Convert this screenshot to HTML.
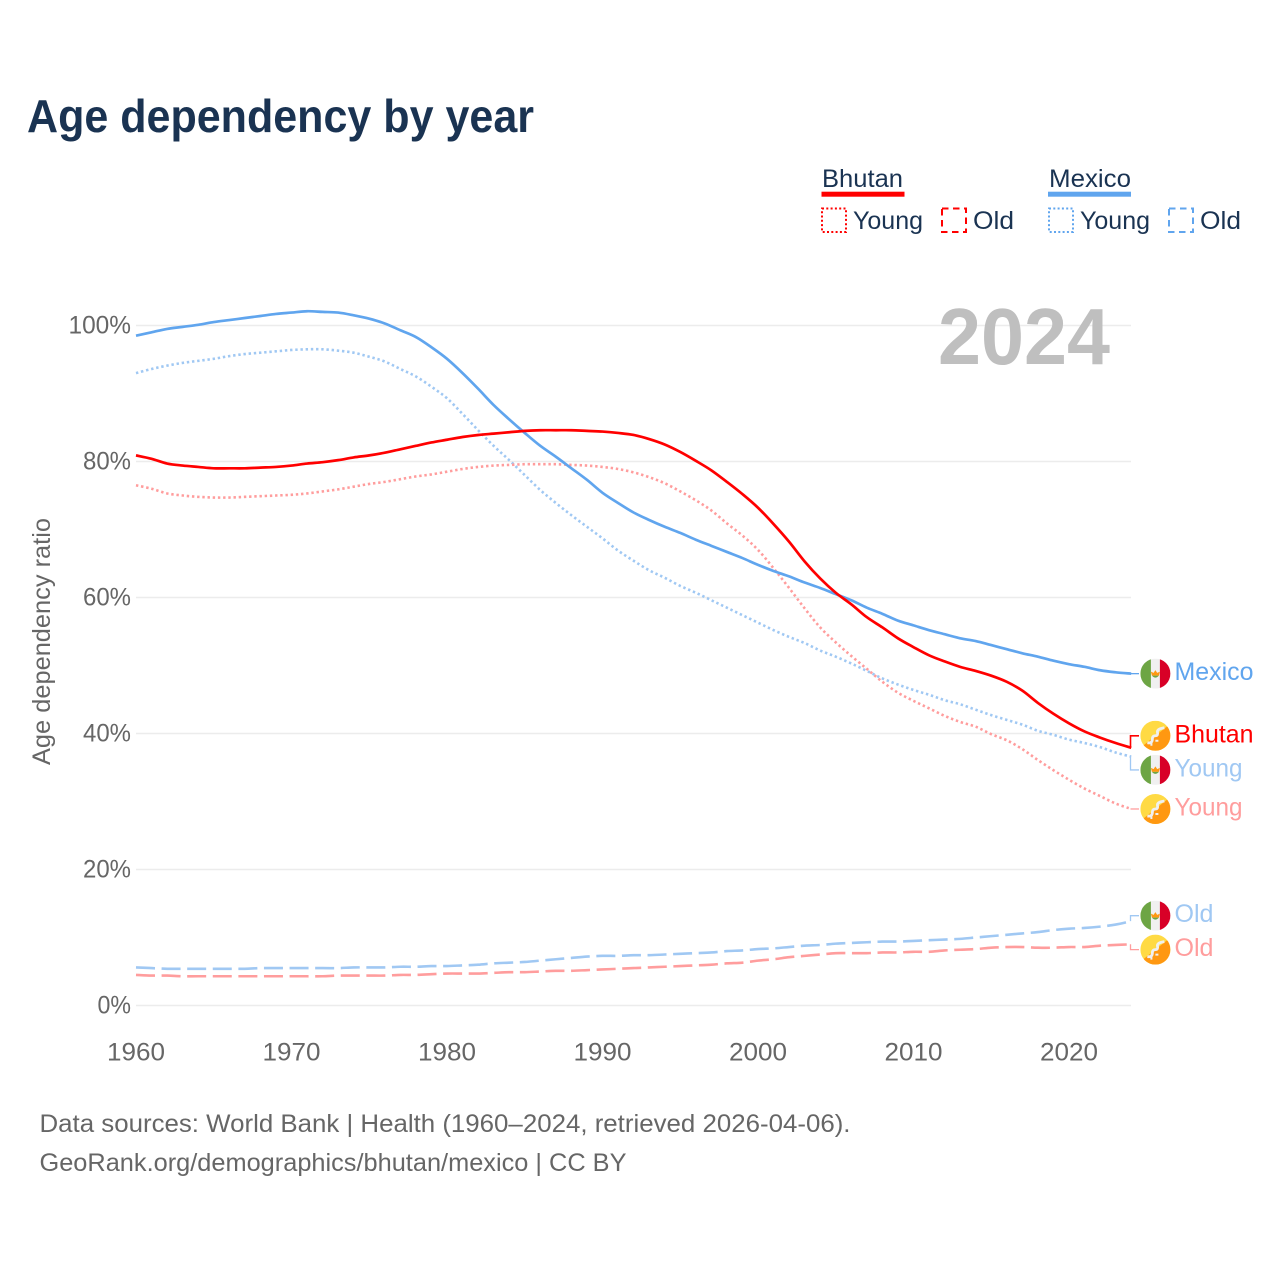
<!DOCTYPE html>
<html lang="en">
<head>
<meta charset="utf-8">
<title>Age dependency by year</title>
<style>
html,body{margin:0;padding:0;background:#fff;width:1280px;height:1280px;overflow:hidden}
svg{display:block}
text{font-family:"Liberation Sans",sans-serif}
</style>
</head>
<body>
<svg id="chart" xmlns="http://www.w3.org/2000/svg" width="1280" height="1280" viewBox="0 0 1280 1280">
  <defs>
    <clipPath id="flag-clip"><circle cx="0" cy="0" r="15"/></clipPath>
    <g id="flag-mexico-art" clip-path="url(#flag-clip)">
      <rect x="-15" y="-15" width="30" height="30" fill="#f0f0f0"/>
      <rect x="-15" y="-15" width="10.5" height="30" fill="#6da544"/>
      <rect x="4.5" y="-15" width="10.5" height="30" fill="#d80027"/>
      <path d="M-4.5 -2 L-1.8 -0.8 L0 -3.5 L1.8 -0.8 L4.5 -2 L3.5 2 L-3.5 2 Z" fill="#ff9811"/>
      <path d="M-3.5 2 Q0 6 3.5 2 Z" fill="#6da544"/>
    </g>
    <g id="flag-bhutan-art" clip-path="url(#flag-clip)">
      <rect x="-15" y="-15" width="30" height="30" fill="#ffda44"/>
      <path d="M-15 15 L-15 12 L15 -12 L15 15 Z" fill="#ff9811"/>
      <path d="M-8 7 Q-3 8 -3 3 Q-3 0 0 0 Q3 0 2 -4 Q2 -7 9 -8" fill="none" stroke="#f0f0f0" stroke-width="2.8"/>
      <path d="M-4 10 L-4 6 M0 5 L3 5" fill="none" stroke="#f0f0f0" stroke-width="2"/>
    </g>
  </defs>

  <text x="27" y="132" font-size="46" font-weight="700" fill="#1a3352" textLength="507" lengthAdjust="spacingAndGlyphs">Age dependency by year</text>

  <g font-size="25" fill="#1a3352">
    <text x="822" y="187" textLength="81" lengthAdjust="spacingAndGlyphs">Bhutan</text>
    <rect x="821.5" y="191.7" width="83" height="5" fill="#ff0000"/>
    <rect x="822" y="208.5" width="24" height="23.5" fill="none" stroke="#ff0000" stroke-width="2" stroke-dasharray="2 2.3"/>
    <text x="853" y="229" textLength="70" lengthAdjust="spacingAndGlyphs">Young</text>
    <rect x="942" y="208.5" width="24" height="23.5" fill="none" stroke="#ff0000" stroke-width="2" stroke-dasharray="6.5 4.5"/>
    <text x="973" y="229" textLength="41" lengthAdjust="spacingAndGlyphs">Old</text>

    <text x="1049" y="187" textLength="82" lengthAdjust="spacingAndGlyphs">Mexico</text>
    <rect x="1048" y="191.7" width="83" height="5" fill="#60a5ee"/>
    <rect x="1049" y="208.5" width="24" height="23.5" fill="none" stroke="#60a5ee" stroke-width="2" stroke-dasharray="2 2.3"/>
    <text x="1080" y="229" textLength="70" lengthAdjust="spacingAndGlyphs">Young</text>
    <rect x="1169" y="208.5" width="24" height="23.5" fill="none" stroke="#60a5ee" stroke-width="2" stroke-dasharray="6.5 4.5"/>
    <text x="1200" y="229" textLength="41" lengthAdjust="spacingAndGlyphs">Old</text>
  </g>

  <text transform="translate(50,765) rotate(-90)" x="0" y="0" font-size="25" fill="#666666" textLength="247" lengthAdjust="spacingAndGlyphs">Age dependency ratio</text>

  <g id="grid"></g>
  <text x="938" y="364" font-size="80" font-weight="700" fill="#bfbfbf" textLength="172" lengthAdjust="spacingAndGlyphs">2024</text>
  <g id="y-ticks"></g>
  <g id="x-ticks"></g>
  <g id="series"></g>
  <g id="end-labels"></g>

  <text x="39.5" y="1132" font-size="25" fill="#666666" textLength="811" lengthAdjust="spacingAndGlyphs">Data sources: World Bank | Health (1960–2024, retrieved 2026-04-06).</text>
  <text x="39.5" y="1171" font-size="25" fill="#666666" textLength="587" lengthAdjust="spacingAndGlyphs">GeoRank.org/demographics/bhutan/mexico | CC BY</text>
</svg>
<script>
const firstYear = 1960;
const xTickLabels = [1960, 1970, 1980, 1990, 2000, 2010, 2020];
const yTickValues = [0, 20, 40, 60, 80, 100];

const mexicoTotal = [98.5,99.0,99.5,99.8,100.1,100.5,100.8,101.1,101.4,101.7,
  101.9,102.1,102.0,101.9,101.5,101.0,100.3,99.3,98.3,96.8,
  95.1,93.0,90.7,88.3,86.2,84.2,82.3,80.7,79.0,77.3,
  75.4,73.9,72.5,71.4,70.4,69.5,68.5,67.6,66.7,65.8,
  64.8,63.9,63.1,62.2,61.4,60.5,59.6,58.5,57.6,56.6,
  55.9,55.2,54.6,54.0,53.6,53.0,52.4,51.8,51.3,50.7,
  50.2,49.8,49.3,49.0,48.8];
const bhutanTotal = [80.9,80.4,79.7,79.4,79.2,79.0,79.0,79.0,79.1,79.2,
  79.4,79.7,79.9,80.2,80.6,80.9,81.3,81.8,82.3,82.8,
  83.2,83.6,83.9,84.1,84.3,84.5,84.6,84.6,84.6,84.5,
  84.4,84.2,83.9,83.3,82.5,81.4,80.1,78.7,77.0,75.2,
  73.2,70.8,68.2,65.3,62.8,60.7,59.0,57.1,55.6,54.0,
  52.7,51.5,50.6,49.8,49.2,48.5,47.6,46.3,44.5,42.9,
  41.5,40.3,39.4,38.6,37.9];
const mexicoYoung = [93.0,93.6,94.1,94.5,94.8,95.1,95.5,95.8,96.0,96.2,
  96.4,96.5,96.5,96.3,96.0,95.4,94.7,93.6,92.5,91.0,
  89.3,87.0,84.6,82.3,80.2,78.0,75.8,73.9,72.1,70.4,
  68.7,66.9,65.4,64.0,62.9,61.7,60.7,59.6,58.5,57.4,
  56.3,55.2,54.2,53.3,52.2,51.3,50.3,49.2,48.1,47.2,
  46.4,45.7,44.9,44.3,43.5,42.7,42.0,41.3,40.4,39.8,
  39.1,38.6,38.0,37.2,36.6];
const bhutanYoung = [76.5,76.0,75.3,75.0,74.8,74.7,74.7,74.8,74.9,75.0,
  75.1,75.3,75.6,75.9,76.3,76.7,77.0,77.4,77.8,78.1,
  78.5,78.9,79.2,79.4,79.5,79.6,79.6,79.6,79.5,79.4,
  79.2,78.9,78.4,77.7,76.8,75.6,74.3,72.8,70.9,69.1,
  67.0,64.3,61.4,58.4,55.6,53.4,51.4,49.5,47.6,46.0,
  44.8,43.7,42.6,41.7,41.0,39.9,39.0,37.7,36.1,34.6,
  33.2,31.9,30.8,29.7,28.9];
const mexicoOld = [5.6,5.5,5.4,5.4,5.4,5.4,5.4,5.4,5.5,5.5,
  5.5,5.5,5.5,5.5,5.6,5.6,5.6,5.7,5.7,5.8,
  5.8,5.9,6.0,6.2,6.3,6.4,6.6,6.8,7.0,7.2,
  7.3,7.3,7.4,7.4,7.5,7.6,7.7,7.8,8.0,8.1,
  8.3,8.4,8.6,8.8,8.9,9.1,9.2,9.3,9.4,9.4,
  9.5,9.6,9.7,9.8,10.0,10.2,10.4,10.6,10.8,11.1,
  11.3,11.4,11.6,11.9,12.4];
const bhutanOld = [4.5,4.4,4.4,4.3,4.3,4.3,4.3,4.3,4.3,4.3,
  4.3,4.3,4.3,4.4,4.4,4.4,4.4,4.5,4.5,4.6,
  4.7,4.7,4.7,4.8,4.9,4.9,5.0,5.1,5.1,5.2,
  5.3,5.4,5.5,5.6,5.7,5.8,5.9,6.0,6.2,6.3,
  6.6,6.8,7.1,7.3,7.5,7.7,7.7,7.7,7.8,7.8,
  7.9,7.9,8.1,8.2,8.3,8.5,8.6,8.6,8.5,8.5,
  8.6,8.6,8.8,8.9,9.0];

const NS = 'http://www.w3.org/2000/svg';
const xScale = year => 136 + (year - 1960) * 15.55;
const yScale = value => 1005.5 - value * 6.8;

function make(parent, tag, attrs, content) {
  const el = document.createElementNS(NS, tag);
  for (const k in attrs) el.setAttribute(k, attrs[k]);
  if (content !== undefined) el.textContent = content;
  parent.appendChild(el);
  return el;
}

// Catmull-Rom spline through the yearly points, so the lines bend smoothly.
function smoothPath(values) {
  const pts = values.map((v, i) => [xScale(firstYear + i), yScale(v)]);
  let d = 'M' + pts[0][0].toFixed(2) + ' ' + pts[0][1].toFixed(2);
  for (let i = 0; i < pts.length - 1; i++) {
    const p0 = pts[Math.max(i - 1, 0)];
    const p1 = pts[i];
    const p2 = pts[i + 1];
    const p3 = pts[Math.min(i + 2, pts.length - 1)];
    const c1x = p1[0] + (p2[0] - p0[0]) / 6;
    const c1y = p1[1] + (p2[1] - p0[1]) / 6;
    const c2x = p2[0] - (p3[0] - p1[0]) / 6;
    const c2y = p2[1] - (p3[1] - p1[1]) / 6;
    d += 'C' + c1x.toFixed(2) + ' ' + c1y.toFixed(2) + ' ' + c2x.toFixed(2) + ' ' + c2y.toFixed(2) + ' ' + p2[0].toFixed(2) + ' ' + p2[1].toFixed(2);
  }
  return d;
}

const gridGroup = document.getElementById('grid');
const yTickGroup = document.getElementById('y-ticks');
yTickValues.forEach(v => {
  const line = make(gridGroup, 'line', {x1: 136, x2: 1131, y1: yScale(v), y2: yScale(v), stroke: '#ececec', 'stroke-width': 1.6});
  
  
  const label = v + '%';
  const width = (label.length - 1) * 14.5 + 19;
  const t = make(yTickGroup, 'text', {x: 131 - width, y: yScale(v) + 8, 'font-size': 25, fill: '#666666', textLength: width, lengthAdjust: 'spacingAndGlyphs'}, label);
  
  
});

const xTickGroup = document.getElementById('x-ticks');
xTickLabels.forEach(year => {
  const t = make(xTickGroup, 'text', {x: xScale(year) - 29, y: 1060.5, 'font-size': 25, fill: '#666666', textLength: 58, lengthAdjust: 'spacingAndGlyphs'}, String(year));
  
  
});

const seriesList = [
  {name: 'mexico-old', values: mexicoOld, color: '#a0c8f3', dash: '19 6.6', width: 2.6, label: 'Old', labelWidth: 39, flag: 'mexico', offset: -5.5},
  {name: 'bhutan-old', values: bhutanOld, color: '#ff9d9d', dash: '19 6.6', width: 2.6, label: 'Old', labelWidth: 39, flag: 'bhutan', offset: 5.3},
  {name: 'mexico-young', values: mexicoYoung, color: '#a0c8f3', dash: '2.4 2.8', width: 2.6, label: 'Young', labelWidth: 68, flag: 'mexico', offset: 13.3},
  {name: 'bhutan-young', values: bhutanYoung, color: '#ff9d9d', dash: '2.4 2.8', width: 2.6, label: 'Young', labelWidth: 68, flag: 'bhutan', offset: 0},
  {name: 'mexico-total', values: mexicoTotal, color: '#60a5ee', dash: '', width: 2.7, label: 'Mexico', labelWidth: 79, flag: 'mexico', offset: 0},
  {name: 'bhutan-total', values: bhutanTotal, color: '#ff0000', dash: '', width: 2.7, label: 'Bhutan', labelWidth: 79, flag: 'bhutan', offset: -12}
];

const seriesGroup = document.getElementById('series');
const endGroup = document.getElementById('end-labels');
seriesList.forEach(s => {
  const attrs = {d: smoothPath(s.values), fill: 'none', stroke: s.color, 'stroke-width': s.width, 'stroke-linejoin': 'round'};
  if (s.dash) attrs['stroke-dasharray'] = s.dash;
  const line = make(seriesGroup, 'path', attrs);
  
  

  const endX = 1130.5;
  const endY = yScale(s.values[s.values.length - 1]);
  const labelY = endY + s.offset;
  const connector = make(endGroup, 'polyline', {
    points: endX + ',' + endY.toFixed(2) + ' ' + endX + ',' + labelY.toFixed(2) + ' 1139,' + labelY.toFixed(2),
    fill: 'none', stroke: s.color, 'stroke-width': s.name === 'bhutan-total' ? 1.6 : 1.3
  });
  
  

  const flag = make(endGroup, 'use', {href: '#flag-' + s.flag + '-art', transform: 'translate(1155.4,' + labelY.toFixed(2) + ')'});
  
  

  const text = make(endGroup, 'text', {x: 1174.5, y: labelY + 6.5, 'font-size': 25, fill: s.color, textLength: s.labelWidth, lengthAdjust: 'spacingAndGlyphs'}, s.label);
  
  
});
</script>
</body>
</html>
